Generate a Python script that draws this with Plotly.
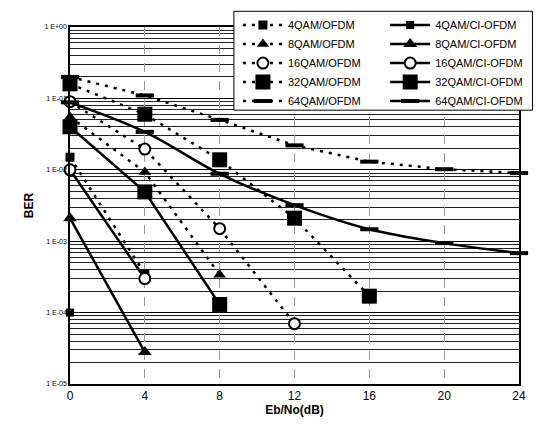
import plotly.graph_objects as go

# ---- data ----
snr = [0, 4, 8, 12, 16, 20, 24]

ofdm_4qam = [0.015, 3.5e-4]
ofdm_8qam = [0.055, 0.0093, 3.4e-4]
ofdm_16qam = [0.09, 0.0195, 0.0015, 7e-5]
ofdm_32qam = [0.16, 0.06, 0.0138, 0.0021, 1.7e-4]
ofdm_64qam = [0.2, 0.11, 0.05, 0.022, 0.013, 0.0102, 0.009]

ci_4qam = [1e-4]
ci_8qam = [0.0021, 2.8e-5]
ci_16qam = [0.0100, 3.0e-4]
ci_32qam = [0.04, 0.0049, 1.3e-4]
ci_64qam = [0.088, 0.034, 0.0088, 0.0032, 0.00147, 0.00094, 0.00068]

y_tickvals = [1, 0.1, 0.01, 0.001, 1e-4, 1e-5]
y_ticktext = ["1 E+00", "1 E-01", "1 E-02", "1 E-03", "1 E-04", "1 E-05"]
x_tickvals = [0, 4, 8, 12, 16, 20, 24]

DOT = "3px,6px"
fig = go.Figure()


def add(name, ys, symbol, size, dash, legend, open_=False, shape="linear"):
    xs = snr[:len(ys)]
    if symbol == "line-ew":
        marker = dict(symbol=symbol, size=size, line=dict(color="black", width=4))
    elif open_:
        marker = dict(symbol=symbol, size=size, color="white",
                      line=dict(color="black", width=2))
    else:
        marker = dict(symbol=symbol, size=size, color="black",
                      line=dict(color="black", width=0))
    fig.add_trace(go.Scatter(
        x=xs, y=ys, name=name, mode="lines+markers", legend=legend,
        line=dict(color="black", width=2.5, dash=dash, shape=shape),
        marker=marker, cliponaxis=False))


add("4QAM/OFDM", ofdm_4qam, "square", 9, DOT, "legend")
add("8QAM/OFDM", ofdm_8qam, "triangle-up", 11, DOT, "legend")
add("16QAM/OFDM", ofdm_16qam, "circle", 11, DOT, "legend", open_=True)
add("32QAM/OFDM", ofdm_32qam, "square", 15, DOT, "legend")
add("64QAM/OFDM", ofdm_64qam, "line-ew", 13, DOT, "legend")
add("4QAM/CI-OFDM", ci_4qam, "square", 8, "solid", "legend2")
add("8QAM/CI-OFDM", ci_8qam, "triangle-up", 12, "solid", "legend2")
add("16QAM/CI-OFDM", ci_16qam, "circle", 11, "solid", "legend2", open_=True)
add("32QAM/CI-OFDM", ci_32qam, "square", 15, "solid", "legend2")
add("64QAM/CI-OFDM", ci_64qam, "line-ew", 13, "solid", "legend2", shape="spline")

leg_common = dict(
    yanchor="top", y=1.046, xanchor="left",
    bgcolor="rgba(0,0,0,0)", borderwidth=0,
    font=dict(size=11), tracegroupgap=0, itemwidth=40,
)

fig.update_layout(
    width=539, height=443,
    margin=dict(l=70, r=11, t=24, b=59),
    paper_bgcolor="white", plot_bgcolor="white",
    font=dict(family="Liberation Sans, Arial, sans-serif", color="black"),
    legend=dict(x=0.374, **leg_common),
    legend2=dict(x=0.702, **leg_common),
    showlegend=True,
    shapes=[dict(type="rect", xref="paper", yref="paper",
                 x0=0.365, x1=1.03, y0=0.767, y1=1.044,
                 fillcolor="white", line=dict(color="black", width=1),
                 layer="above")],
)

fig.update_xaxes(
    range=[0, 24], tickvals=x_tickvals, ticks="",
    showgrid=True, gridcolor="#999999", gridwidth=1, griddash="dash",
    showline=True, linecolor="black", linewidth=1.5, mirror=True,
    tickfont=dict(size=12), zeroline=False,
    title=dict(text="<b>Eb/No(dB)</b>", font=dict(size=12), standoff=2),
)
fig.update_yaxes(
    type="log", range=[-5, 0], tickvals=y_tickvals, ticktext=y_ticktext,
    ticks="", showgrid=True, gridcolor="#000000", gridwidth=1,
    minor=dict(dtick="D1", showgrid=True, gridcolor="#222222", gridwidth=1),
    showline=True, linecolor="black", linewidth=1.5, mirror=True,
    tickfont=dict(size=7),
    title=dict(text="<b>BER</b>", font=dict(size=12), standoff=8),
)

fig.write_html("out.html")
